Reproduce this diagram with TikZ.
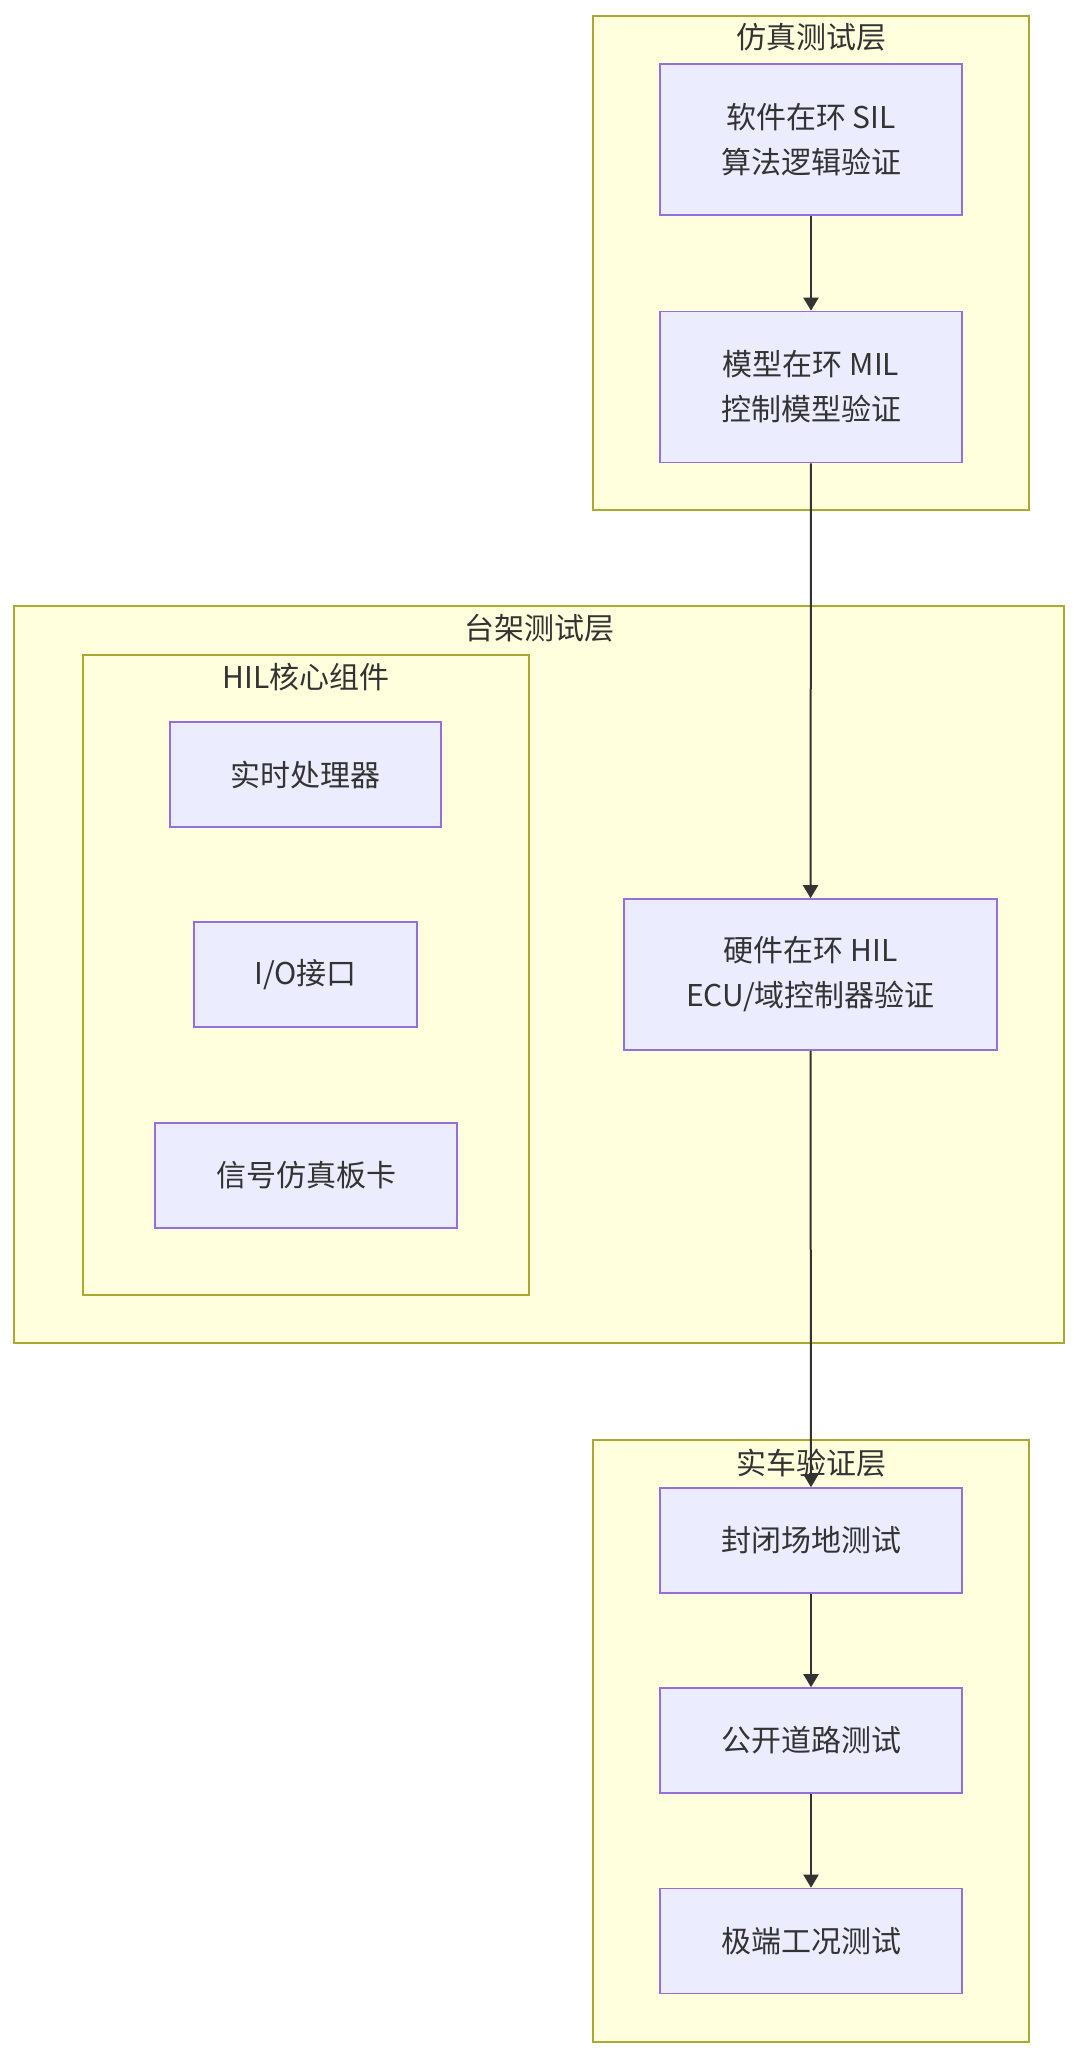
\documentclass[tikz,border=0pt]{standalone}
\usepackage{fontspec}
\setmainfont{Noto Sans CJK SC}
\usepackage{tikz}
\usetikzlibrary{arrows.meta}

\definecolor{boxfill}{HTML}{ECECFF}
\definecolor{boxline}{HTML}{9370DB}
\definecolor{layerfill}{HTML}{FFFFDE}
\definecolor{layerline}{HTML}{AAAA33}
\definecolor{inktext}{HTML}{333333}

\tikzset{
  stepbox/.style={draw=boxline, fill=boxfill, line width=0.8pt, align=center,
    text=inktext, font=\fontsize{15}{22.5}\selectfont, inner sep=0pt},
  layerbox/.style={draw=layerline, fill=layerfill, line width=0.8pt, inner sep=0pt},
  layertitle/.style={text=inktext, font=\fontsize{15}{18}\selectfont, inner sep=0pt},
  flow/.style={draw=inktext, line width=1pt, -{Triangle[length=6.5pt,width=7.5pt]}}
}

\begin{document}
\begin{tikzpicture}[x=0.5pt, y=-0.5pt]
    \useasboundingbox (0,0) rectangle (1080,2058);

    % layers
    \node[layerbox, minimum width=218pt, minimum height=247pt] (simlayer) at (811,263) {};
    \node[layerbox, minimum width=525pt, minimum height=368.5pt] (benchlayer) at (539,974.5) {};
    \node[layerbox, minimum width=223pt, minimum height=320pt] (corelayer) at (306,975) {};
    \node[layerbox, minimum width=218pt, minimum height=301pt] (carlayer) at (811,1741) {};

    \node[layertitle] (simtitle) at (811,37) {仿真测试层};
    \node[layertitle] (benchtitle) at (539,628) {台架测试层};
    \node[layertitle] (coretitle) at (306,677) {HIL核心组件};
    \node[layertitle] (cartitle) at (811,1463) {实车验证层};

    % simulation
    \node[stepbox, minimum width=151pt, minimum height=75.5pt] (sil) at (811,139.5) {软件在环 SIL\\算法逻辑验证};
    \node[stepbox, minimum width=151pt, minimum height=75.5pt] (mil) at (811,387) {模型在环 MIL\\控制模型验证};

    % bench
    \node[stepbox, minimum width=135.5pt, minimum height=52.5pt] (cpu) at (305.5,774.5) {实时处理器};
    \node[stepbox, minimum width=111.5pt, minimum height=52.5pt] (io) at (305.5,974.5) {I/O接口};
    \node[stepbox, minimum width=151pt, minimum height=52.5pt] (sigcard) at (306,1175.5) {信号仿真板卡};
    \node[stepbox, minimum width=186.5pt, minimum height=75.5pt] (hil) at (810.5,974.5) {硬件在环 HIL\\ECU/域控制器验证};

    % vehicle
    \node[stepbox, minimum width=151pt, minimum height=52.5pt] (closed) at (811,1540.5) {封闭场地测试};
    \node[stepbox, minimum width=151pt, minimum height=52.5pt] (road) at (811,1740.5) {公开道路测试};
    \node[stepbox, minimum width=151pt, minimum height=52.5pt] (extreme) at (811,1941) {极端工况测试};

    % arrows
    \draw[flow] (sil) -- (mil);
    \draw[flow] (mil) -- (hil);
    \draw[flow] (hil) -- (closed);
    \draw[flow] (closed) -- (road);
    \draw[flow] (road) -- (extreme);
\end{tikzpicture}
\end{document}
